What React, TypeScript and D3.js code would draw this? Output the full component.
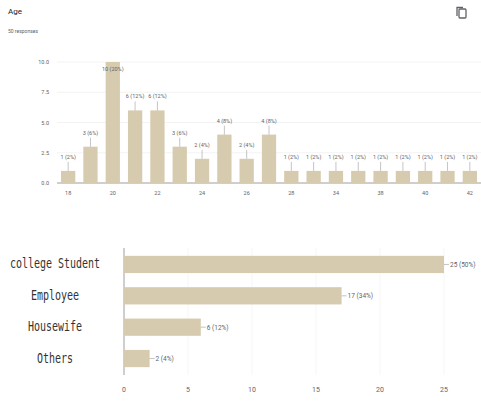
import React from "react";
import * as d3 from "d3";

const ageCategories = ["18","19","20","21","22","23","24","25","26","27","28","30","34","36","38","39","40","41","42"];
const ageCounts = [1,3,10,6,6,3,2,4,2,4,1,1,1,1,1,1,1,1,1];
const ageTicks = [0, 2.5, 5, 7.5, 10];

const occCategories = ["college Student","Employee","Housewife","Others"];
const occCounts = [25,17,6,2];
const occTicks = [0,5,10,15,20,25];

const TOTAL = 50;
const BAR = "#d6cbae";
const TXT = "#5f6368";

export default function App() {
  const W = 481, H = 403;
  // top chart
  const x1 = d3.scaleBand<string>().domain(ageCategories).range([57, 481]).paddingInner(0.36).paddingOuter(0.18);
  const y1 = d3.scaleLinear().domain([0, 10]).range([183, 62]);
  // bottom chart
  const x2 = d3.scaleLinear().domain([0, 25]).range([124, 444]);
  const y2 = d3.scaleBand<string>().domain(occCategories).range([248, 375]).paddingInner(0.45).paddingOuter(0.25);
  const pct = (v: number) => `${v} (${Math.round((v / TOTAL) * 100)}%)`;

  return (
    <svg width={W} height={H} style={{ position: "absolute", left: 0, top: 0, background: "#fff" }}
      fontFamily="Roboto, Arial, sans-serif">
      <text x={8} y={14} fontSize={8} fill="#202124">Age</text>
      <text x={8} y={33} fontSize={5} fill="#5f6368">50 responses</text>
      <g transform="translate(457,7)" fill="none" stroke="#5f6368" strokeWidth={1.3}>
        <rect x={2} y={2} width={7} height={9} rx={1} />
        <path d="M0,9 V0.5 H6" />
      </g>

      {/* top chart grid */}
      {ageTicks.map((t) => (
        <g key={t}>
          <line x1={57} x2={481} y1={y1(t)} y2={y1(t)} stroke={t === 0 ? "#9e9e9e" : "#eeeeee"} strokeWidth={t === 0 ? 1 : 0.7} />
          <text x={49} y={y1(t) + 2} fontSize={5.5} fill={TXT} textAnchor="end">{t.toFixed(1)}</text>
        </g>
      ))}
      {ageCategories.map((c, i) => {
        const v = ageCounts[i];
        const bx = x1(c)!;
        const top = y1(v);
        const cx = bx + x1.bandwidth() / 2;
        const inside = top - 13 < 62;
        const ly = inside ? top + 9 : top - 12;
        return (
          <g key={c}>
            <rect x={bx} y={top} width={x1.bandwidth()} height={y1(0) - top} fill={BAR} />
            {!inside && <line x1={cx} x2={cx} y1={top} y2={top - 9} stroke="#9e9e9e" strokeWidth={0.6} />}
            <text x={cx} y={ly} fontSize={5.5} fill={TXT} textAnchor="middle">{pct(v)}</text>
            {i % 2 === 0 && (
              <text x={cx} y={195} fontSize={5.5} fill={TXT} textAnchor="middle">{c}</text>
            )}
          </g>
        );
      })}

      {/* bottom chart */}
      {occTicks.map((t) => (
        <g key={t}>
          {t > 0 && <line x1={x2(t)} x2={x2(t)} y1={248} y2={375} stroke="#f2f2f2" strokeWidth={0.7} />}
          <text x={x2(t)} y={392} fontSize={7} fill={TXT} textAnchor="middle">{t}</text>
        </g>
      ))}
      <line x1={124} x2={124} y1={248} y2={375} stroke="#9e9e9e" strokeWidth={1} />
      {occCategories.map((c, i) => {
        const v = occCounts[i];
        const by = y2(c)!;
        const cy = by + y2.bandwidth() / 2;
        const end = x2(v);
        return (
          <g key={c}>
            <rect x={124} y={by} width={end - 124} height={y2.bandwidth()} fill={BAR} />
            <line x1={end} x2={end + 5} y1={cy} y2={cy} stroke="#9e9e9e" strokeWidth={0.6} />
            <text x={end + 6} y={cy + 2.5} fontSize={6.5} fill={TXT}>{pct(v)}</text>
            <g transform={`translate(55,${cy + 4}) scale(1,1.35)`}>
              <text x={0} y={0} fontSize={10} fill="#333" textAnchor="middle"
                fontFamily="'DejaVu Sans Mono', 'Liberation Mono', monospace">{c}</text>
            </g>
          </g>
        );
      })}
    </svg>
  );
}
